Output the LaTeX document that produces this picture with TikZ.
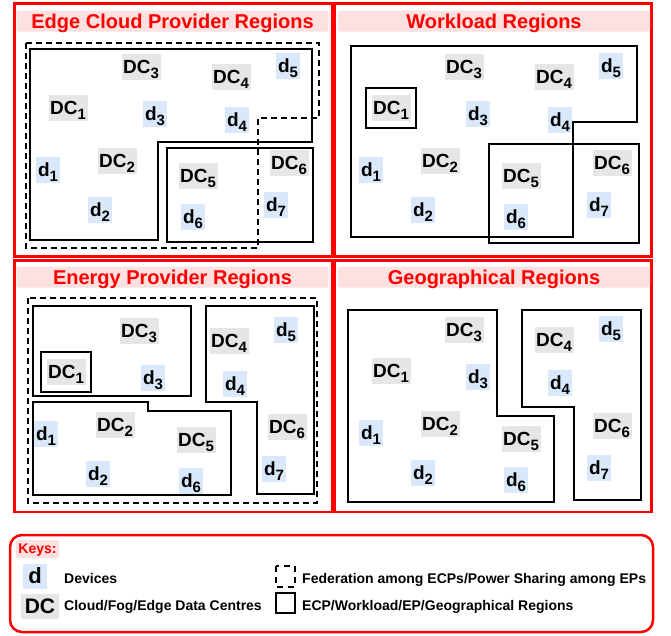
\documentclass[tikz,border=0pt]{standalone}
\usepackage{fontspec}
\setmainfont{Liberation Sans}
\usetikzlibrary{fit}

\definecolor{dcgray}{RGB}{230,230,230}
\definecolor{devblue}{RGB}{218,232,252}
\definecolor{titlepink}{RGB}{253,224,224}

\newcommand\subidx[1]{\raisebox{-5pt}{\fontsize{15}{15}\selectfont #1}}
\def\lbllist{dcbox/DC/1/68/108, dcbox/DC/2/117/161, dcbox/DC/3/141/67,
  dcbox/DC/4/231/77, dcbox/DC/5/198/176, dcbox/DC/6/289/163,
  devbox/d/1/48/170, devbox/d/2/100/210, devbox/d/3/155/114,
  devbox/d/4/237/120, devbox/d/5/288/66, devbox/d/6/193/217, devbox/d/7/276/205}

\begin{document}
\begin{tikzpicture}[x=1pt,y=-1pt]
                \tikzstyle{frame}=[draw=red, line width=2.5pt]
                \tikzstyle{title}=[fill=titlepink, rounded corners=2pt, minimum width=312pt, minimum height=21pt, inner sep=0pt, text=red, text depth=0pt, font=\fontsize{20}{20}\selectfont\bfseries]
                \tikzstyle{region}=[draw, line width=2pt]
                \tikzstyle{fed}=[region, dash pattern=on 6pt off 4pt]
                \tikzstyle{lbl}=[inner sep=0pt, minimum height=26pt, text depth=0pt, font=\fontsize{19}{19}\selectfont\bfseries]
                \tikzstyle{dcbox}=[lbl, fill=dcgray, minimum width=39pt]
                \tikzstyle{devbox}=[lbl, fill=devblue, minimum width=24pt]
                \tikzstyle{keytext}=[anchor=base west, inner sep=0pt, font=\fontsize{14}{14}\selectfont\bfseries]

                \useasboundingbox (0,0) rectangle (671,635);

                \draw[frame] (14.5,3.5) rectangle (332.5,256.5);
                \draw[frame] (334.5,3.5) rectangle (651.5,256.5);
                \draw[frame] (14.5,260.5) rectangle (332.5,512);
                \draw[frame] (334.5,260.5) rectangle (651.5,512);

                \node[title] (ecp-title) at (172.5,21) {Edge Cloud Provider Regions};
                \node[title] (wl-title)  at (494,21) {Workload Regions};
                \node[title] (ep-title)  at (172.5,277) {Energy Provider Regions};
                \node[title] (geo-title) at (494,277) {Geographical Regions};

                % edge cloud providers
                \draw[fed] (26,43) -- (319,43) -- (319,118) -- (258,118) -- (258,248) -- (26,248) -- cycle;
                \draw[region] (30,49) -- (312,49) -- (312,142) -- (158,142) -- (158,240) -- (30,240) -- cycle;
                \draw[region] (167,148) rectangle (313,242);

                % workload
                \draw[region] (351,46) -- (637,46) -- (637,122) -- (573,122) -- (573,237) -- (351,237) -- cycle;
                \draw[region] (489,144) rectangle (639,243);

                % energy providers
                \draw[fed] (28,298) rectangle (317,503);
                \draw[region] (33,306) rectangle (191,396);
                \draw[region] (33,402) -- (148,402) -- (148,411) -- (231,411) -- (231,495) -- (33,495) -- cycle;
                \draw[region] (206,306) -- (314,306) -- (314,494) -- (257,494) -- (257,402) -- (206,402) -- cycle;

                % geographical
                \draw[region] (348,310) -- (497,310) -- (497,416) -- (554,416) -- (554,502) -- (348,502) -- cycle;
                \draw[region] (522,310) -- (641,310) -- (641,500) -- (574,500) -- (574,407) -- (522,407) -- cycle;

                \foreach \q/\dx/\dy in {ecp/0/0, wl/323/0, ep/-2/264, geo/323/263}{
                  \begin{scope}[shift={(\dx,\dy)}]
                    \foreach \s/\txt/\i/\x/\y in \lbllist
                      \node[\s] (\q-\txt\i) at (\x,\y) {\txt\subidx{\i}};
                  \end{scope}
                }

                \node[region, fit=(wl-DC1), inner xsep=5pt, inner ysep=6.5pt] (wl-dc1-region) {};
                \node[region, fit=(ep-DC1), inner xsep=5pt, inner ysep=6.5pt] (ep-dc1-region) {};

                % keys
                \draw[frame, rounded corners=12pt] (10,535) rectangle (653,632);
                \node[fill=titlepink, rounded corners=2pt, minimum width=43pt, minimum height=18pt, inner sep=0pt, text depth=0pt, text=red, font=\fontsize{14}{14}\selectfont\bfseries] (keys) at (37.5,549) {Keys:};
                \node[devbox, minimum height=25pt, font=\fontsize{22}{22}\selectfont\bfseries] (key-dev) at (35,576) {d};
                \node[dcbox, minimum width=38pt, minimum height=25pt, font=\fontsize{21}{21}\selectfont\bfseries] (key-dc) at (40,606) {DC};
                \node[keytext] (key-dev-txt) at (64,583) {Devices};
                \node[keytext] (key-dc-txt) at (64,610) {Cloud/Fog/Edge Data Centres};
                \draw[fed, dash pattern=on 6pt off 5pt] (276,566) rectangle (295,587);
                \node[keytext] (key-fed-txt) at (302,583) {Federation among ECPs/Power Sharing among EPs};
                \draw[region] (276,593) rectangle (295,613);
                \node[keytext] (key-reg-txt) at (302,610) {ECP/Workload/EP/Geographical Regions};
            \end{tikzpicture}
\end{document}
